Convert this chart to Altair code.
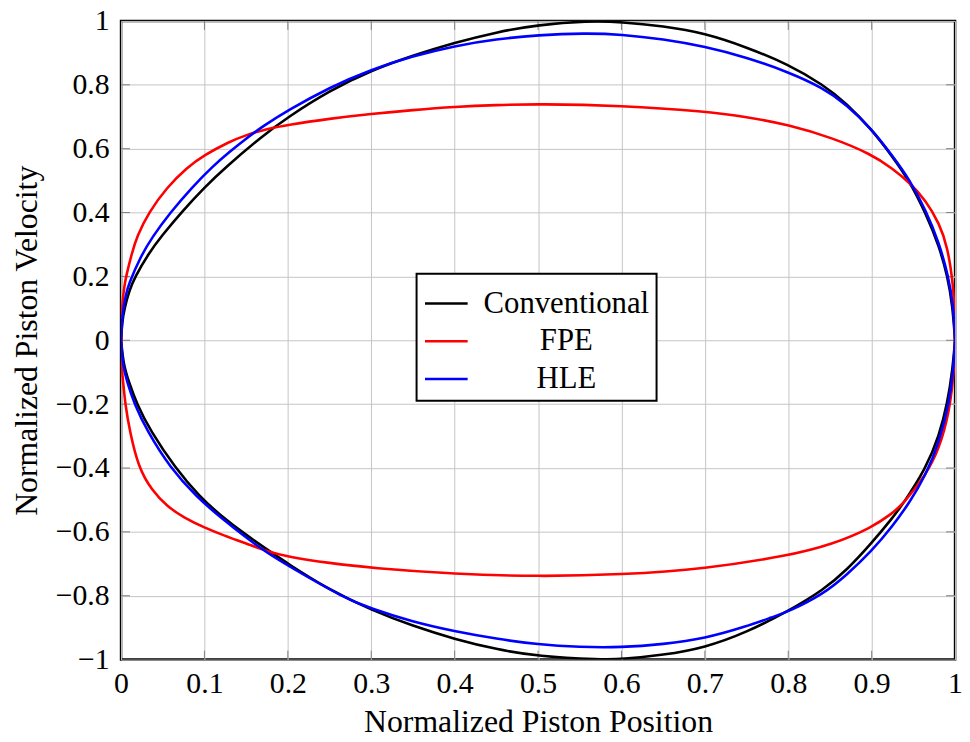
import altair as alt
import pandas as pd

# ---- data ----
conv_up_x = [0, 0.0012, 0.004, 0.0103, 0.016, 0.033, 0.049, 0.073, 0.1, 0.125, 0.168, 0.2, 0.25, 0.3, 0.35, 0.4, 0.45, 0.5, 0.56, 0.6, 0.65, 0.7, 0.75, 0.8, 0.842, 0.87, 0.9, 0.925, 0.945, 0.965, 0.981, 0.991, 0.997, 1.0]
conv_up_y = [0, 0.055, 0.1, 0.158, 0.195, 0.272, 0.328, 0.403, 0.479, 0.541, 0.637, 0.699, 0.782, 0.845, 0.892, 0.932, 0.965, 0.988, 1.0, 0.997, 0.984, 0.962, 0.918, 0.864, 0.8, 0.742, 0.66, 0.575, 0.5, 0.397, 0.294, 0.2, 0.108, 0]
conv_lo_x = [0, 0.003, 0.009, 0.019, 0.035, 0.065, 0.094, 0.119, 0.15, 0.175, 0.2, 0.25, 0.3, 0.35, 0.4, 0.45, 0.5, 0.576, 0.6, 0.65, 0.7, 0.75, 0.8, 0.842, 0.87, 0.9, 0.925, 0.937, 0.965, 0.981, 0.991, 0.997, 1.0]
conv_lo_y = [0, -0.077, -0.128, -0.2, -0.283, -0.4, -0.489, -0.548, -0.61, -0.655, -0.7, -0.782, -0.845, -0.895, -0.936, -0.968, -0.99, -1.0, -0.999, -0.986, -0.963, -0.915, -0.848, -0.782, -0.72, -0.635, -0.556, -0.515, -0.402, -0.299, -0.195, -0.092, 0]

fpe_up_x = [0, 0.0004, 0.0016, 0.004, 0.006, 0.013, 0.019, 0.033, 0.055, 0.079, 0.1, 0.129, 0.15, 0.175, 0.2, 0.25, 0.3, 0.35, 0.4, 0.45, 0.5, 0.6, 0.7, 0.75, 0.8, 0.853, 0.9, 0.925, 0.945, 0.965, 0.981, 0.991, 0.998, 0.9995, 1.0]
fpe_up_y = [0, 0.067, 0.119, 0.17, 0.2, 0.273, 0.325, 0.4, 0.479, 0.541, 0.58, 0.621, 0.643, 0.662, 0.675, 0.694, 0.709, 0.721, 0.731, 0.737, 0.74, 0.735, 0.717, 0.7, 0.675, 0.634, 0.582, 0.538, 0.495, 0.438, 0.366, 0.294, 0.17, 0.08, 0]
fpe_lo_x = [0, 0.0004, 0.0024, 0.005, 0.0103, 0.021, 0.037, 0.055, 0.075, 0.1, 0.125, 0.15, 0.175, 0.2, 0.25, 0.3, 0.4, 0.5, 0.6, 0.7, 0.8, 0.853, 0.9, 0.925, 0.937, 0.965, 0.981, 0.993, 0.998, 0.9995, 1.0]
fpe_lo_y = [0, -0.077, -0.128, -0.2, -0.283, -0.4, -0.47, -0.52, -0.555, -0.587, -0.613, -0.636, -0.661, -0.678, -0.698, -0.713, -0.732, -0.74, -0.734, -0.716, -0.675, -0.639, -0.587, -0.541, -0.515, -0.422, -0.34, -0.226, -0.113, -0.05, 0]

hle_up_x = [0, 0.0016, 0.006, 0.009, 0.023, 0.037, 0.059, 0.085, 0.11, 0.13, 0.15, 0.17, 0.2, 0.25, 0.3, 0.35, 0.4, 0.45, 0.5, 0.556, 0.6, 0.65, 0.7, 0.75, 0.8, 0.842, 0.87, 0.9, 0.925, 0.945, 0.965, 0.981, 0.992, 0.998, 1.0]
hle_up_y = [0, 0.085, 0.145, 0.175, 0.26, 0.322, 0.4, 0.479, 0.545, 0.59, 0.632, 0.67, 0.72, 0.792, 0.848, 0.89, 0.922, 0.943, 0.956, 0.962, 0.958, 0.943, 0.92, 0.886, 0.84, 0.79, 0.738, 0.662, 0.577, 0.505, 0.407, 0.304, 0.2, 0.108, 0]
hle_lo_x = [0, 0.002, 0.007, 0.016, 0.031, 0.059, 0.09, 0.122, 0.15, 0.172, 0.2, 0.269, 0.3, 0.348, 0.4, 0.45, 0.5, 0.55, 0.6, 0.65, 0.7, 0.75, 0.782, 0.8, 0.842, 0.87, 0.9, 0.925, 0.945, 0.965, 0.981, 0.993, 0.998, 1.0]
hle_lo_y = [0, -0.077, -0.128, -0.2, -0.283, -0.4, -0.489, -0.561, -0.618, -0.66, -0.706, -0.809, -0.84, -0.881, -0.912, -0.935, -0.953, -0.961, -0.962, -0.952, -0.934, -0.896, -0.866, -0.85, -0.795, -0.735, -0.66, -0.582, -0.51, -0.422, -0.319, -0.195, -0.092, 0]

series_names = ["Conventional", "FPE", "HLE"]
series_colors = ["#000000", "#ff0000", "#0000ff"]
series_widths = [2.6, 2.6, 2.0]

x_ticks = [0, 0.1, 0.2, 0.3, 0.4, 0.5, 0.6, 0.7, 0.8, 0.9, 1]
y_ticks = [-1, -0.8, -0.6, -0.4, -0.2, 0, 0.2, 0.4, 0.6, 0.8, 1]

rows = []
branches = [
    ("Conventional", "up", conv_up_x, conv_up_y),
    ("Conventional", "lo", conv_lo_x, conv_lo_y),
    ("FPE", "up", fpe_up_x, fpe_up_y),
    ("FPE", "lo", fpe_lo_x, fpe_lo_y),
    ("HLE", "up", hle_up_x, hle_up_y),
    ("HLE", "lo", hle_lo_x, hle_lo_y),
]
for s, b, xs, ys in branches:
    for i, (xv, yv) in enumerate(zip(xs, ys)):
        rows.append({"series": s, "branch": s + "_" + b, "i": i, "x": xv, "y": yv})
df = pd.DataFrame(rows)

W, H = 841, 644
FONT = "Liberation Serif, DejaVu Serif, Times New Roman, serif"

xscale = alt.Scale(domain=[0, 1], nice=False, zero=False)
yscale = alt.Scale(domain=[-1, 1], nice=False, zero=False)

lines = alt.Chart(df).mark_line(interpolate="basis", clip=True).encode(
    x=alt.X("x:Q", scale=xscale,
            axis=alt.Axis(values=x_ticks, format="~g", title="Normalized Piston Position",
                          labelPadding=9, titlePadding=9)),
    y=alt.Y("y:Q", scale=yscale,
            axis=alt.Axis(values=y_ticks, format="~g", title="Normalized Piston Velocity",
                          labelPadding=12, titlePadding=12)),
    color=alt.Color("series:N",
                    scale=alt.Scale(domain=series_names, range=series_colors),
                    legend=alt.Legend(title=None, orient="none", legendX=298, legendY=255,
                                      direction="vertical", symbolType="stroke",
                                      symbolSize=1849, symbolStrokeWidth=2.5,
                                      labelAlign="center", labelOffset=98, labelLimit=400,
                                      labelFont=FONT, labelFontSize=31, labelColor="black",
                                      padding=7, rowPadding=0, strokeColor="black",
                                      fillColor="white")),
    strokeWidth=alt.StrokeWidth("series:N",
                                scale=alt.Scale(domain=series_names, range=series_widths),
                                legend=None),
    detail="branch:N",
    order="i:Q",
)

xt = pd.DataFrame({"t": x_ticks[1:-1]})
yt = pd.DataFrame({"t": y_ticks[1:-1]})
TL = 9
tick_color = "#7f7f7f"
tx_bot = alt.Chart(xt).mark_rule(color=tick_color, strokeWidth=1).encode(
    x=alt.X("t:Q", scale=xscale), y=alt.value(H), y2=alt.value(H - TL))
tx_top = alt.Chart(xt).mark_rule(color=tick_color, strokeWidth=1).encode(
    x=alt.X("t:Q", scale=xscale), y=alt.value(0), y2=alt.value(TL))
ty_left = alt.Chart(yt).mark_rule(color=tick_color, strokeWidth=1).encode(
    y=alt.Y("t:Q", scale=yscale), x=alt.value(0), x2=alt.value(TL))
ty_right = alt.Chart(yt).mark_rule(color=tick_color, strokeWidth=1).encode(
    y=alt.Y("t:Q", scale=yscale), x=alt.value(W), x2=alt.value(W - TL))

chart = alt.layer(tx_bot, tx_top, ty_left, ty_right, lines).properties(
    width=W, height=H,
    autosize=alt.AutoSizeParams(type="none"),
    padding={"left": 114, "top": 10, "right": 7, "bottom": 76},
).configure_view(
    stroke="black", strokeWidth=2.5
).configure_axis(
    grid=True, gridColor="#c4c4c4", gridWidth=1, domain=False, ticks=False,
    labelFont=FONT, labelFontSize=30, labelColor="black", labelFlush=False,
    labelOverlap=False,
    titleFont=FONT, titleFontSize=32, titleFontWeight="normal", titleColor="black",
).configure_legend(
    strokeWidth=2
)

chart.save("out.html", embed_options={"renderer": "svg", "actions": False})
